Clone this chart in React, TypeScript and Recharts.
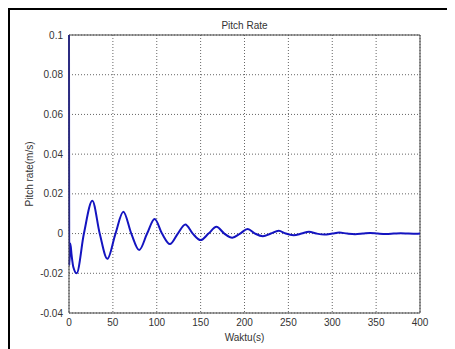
import React from 'react';
import { LineChart, Line, XAxis, YAxis, CartesianGrid, ReferenceLine, Label } from 'recharts';

const timeSeconds = [
  0, 0.3, 1.5, 3, 5, 8.7, 17, 26.6, 35, 43.7, 53, 61.9, 71, 80, 89, 97.6, 106, 115, 124, 132.6,
  141, 150, 159, 168, 177, 186, 195, 203.6, 212, 221, 230, 239, 247, 256, 265, 273.5, 282, 291,
  300, 308, 317, 326, 335, 343, 352, 361, 370, 378, 387, 396, 400,
];

const pitchRate = [
  0.1, -0.016, -0.005, -0.011, -0.017, -0.02, 0, 0.0165, 0, -0.0127, 0, 0.011, 0, -0.0083, 0, 0.0073,
  0, -0.0053, 0, 0.0046, 0, -0.0033, 0, 0.0034, 0, -0.0021, 0, 0.0023, 0, -0.0013, 0, 0.0014, 0,
  -0.0008, 0, 0.0009, 0, -0.0005, 0, 0.0005, 0, -0.0003, 0, 0.0003, 0, -0.0002, 0, 0.0002, 0,
  -0.0001, 0,
];

const xTicks = [0, 50, 100, 150, 200, 250, 300, 350, 400];
const yTicks = [-0.04, -0.02, 0, 0.02, 0.04, 0.06, 0.08, 0.1];

const data = timeSeconds.map((t, i) => ({ t, v: pitchRate[i] }));

const fmtY = (v: number) => {
  if (Math.abs(v) < 1e-9) return '0';
  return String(Number(v.toFixed(2)));
};

const FONT = '"Liberation Sans", Arial, sans-serif';

export default function App() {
  return (
    <div style={{ position: 'relative', width: 447, height: 341, fontFamily: FONT, background: '#fff' }}>
      <LineChart
        width={447}
        height={341}
        data={data}
        margin={{ top: 27, right: 35, bottom: 6, left: 11 }}
      >
        <CartesianGrid stroke="#666" strokeDasharray="1 2" />
        <XAxis
          dataKey="t"
          type="number"
          domain={[0, 400]}
          ticks={xTicks}
          height={30}
          tickLine={false}
          tickSize={4}
          tickMargin={2}
          axisLine={{ stroke: '#444' }}
          tick={{ fontSize: 10, fill: '#333', fontFamily: FONT }}
          interval={0}
        >
          <Label value="Waktu(s)" position="insideBottom" offset={2} style={{ fontSize: 10, fill: '#333', fontFamily: FONT }} />
        </XAxis>
        <YAxis
          type="number"
          domain={[-0.04, 0.1]}
          ticks={yTicks}
          width={50}
          tickLine={false}
          tickSize={4}
          tickMargin={2}
          axisLine={{ stroke: '#444' }}
          tickFormatter={fmtY}
          tick={{ fontSize: 10, fill: '#333', fontFamily: FONT }}
          interval={0}
        >
          <Label
            content={(props: any) => {
              const vb = props.viewBox || {};
              const cx = (vb.x ?? 11) + 10;
              const cy = (vb.y ?? 27) + (vb.height ?? 278) / 2;
              return (
                <text
                  x={cx}
                  y={cy}
                  transform={`rotate(-90, ${cx}, ${cy})`}
                  textAnchor="middle"
                  dominantBaseline="central"
                  fontSize={10}
                  fill="#333"
                  fontFamily={FONT}
                >
                  Pitch rate(m/s)
                </text>
              );
            }}
          />
        </YAxis>
        <ReferenceLine
          y={0.1}
          stroke="#444"
          label={{ value: 'Pitch Rate', position: 'top', offset: 6, fontSize: 10, fill: '#333', fontFamily: FONT }}
        />
        <ReferenceLine x={400} stroke="#444" />
        <Line
          type="monotone"
          dataKey="v"
          stroke="#1414c0"
          strokeWidth={2}
          dot={false}
          isAnimationActive={false}
        />
      </LineChart>
      <div
        style={{
          position: 'absolute',
          left: 0,
          top: 0,
          width: 447,
          height: 341,
          borderLeft: '2px solid #000',
          borderTop: '2px solid #000',
          boxSizing: 'border-box',
          pointerEvents: 'none',
        }}
      />
    </div>
  );
}
